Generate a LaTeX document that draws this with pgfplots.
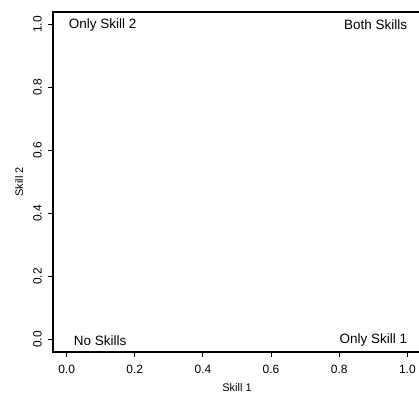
\documentclass[border=0pt]{standalone}
\usepackage{fontspec}
\setmainfont{Liberation Sans}
\usepackage{pgfplots}
\pgfplotsset{compat=1.18}
\begin{document}
\begin{tikzpicture}
\begin{axis}[
  at={(0,0)}, anchor=south west,
  scale only axis,
  width=368bp, height=340bp,
  xmin=-0.04, xmax=1.04, ymin=-0.04, ymax=1.04,
  xtick={0,0.2,0.4,0.6,0.8,1.0},
  ytick={0,0.2,0.4,0.6,0.8,1.0},
  xticklabels={0.0,0.2,0.4,0.6,0.8,1.0},
  yticklabels={0.0,0.2,0.4,0.6,0.8,1.0},
  tick align=outside,
  major tick length=5bp,
  xtick pos=bottom, ytick pos=left,
  axis line style={line width=1.2bp},
  tick style={line width=1bp, black},
  tick label style={font=\fontsize{12bp}{14bp}\selectfont},
  xticklabel style={anchor=center, yshift=-12bp},
  yticklabel style={anchor=center, rotate=90, yshift=10.5bp},
  xlabel={Skill 1},
  ylabel={Skill 2},
  label style={font=\fontsize{11bp}{13bp}\selectfont},
  xlabel style={at={(axis description cs:0.5,-0.106)}, anchor=center},
  ylabel style={at={(axis description cs:-0.092,0.5)}, anchor=center},
]
\addplot[draw=none] coordinates {(0,0) (1,1)};
\node[anchor=west, inner sep=0pt, font=\fontsize{13.5bp}{15bp}\selectfont] at (axis cs:0,1) [xshift=2bp] {Only Skill 2};
\node[anchor=east, inner sep=0pt, font=\fontsize{13.5bp}{15bp}\selectfont] at (axis cs:1,1) {Both Skills};
\node[anchor=west, inner sep=0pt, font=\fontsize{13.5bp}{15bp}\selectfont] at (axis cs:0,0) [xshift=7bp, yshift=-1bp] {No Skills};
\node[anchor=east, inner sep=0pt, font=\fontsize{13.5bp}{15bp}\selectfont] at (axis cs:1,0) [yshift=-1bp] {Only Skill 1};
\end{axis}
\pgfresetboundingbox
\useasboundingbox (-53bp,-41bp) rectangle (366bp,352bp);
\end{tikzpicture}
\end{document}
